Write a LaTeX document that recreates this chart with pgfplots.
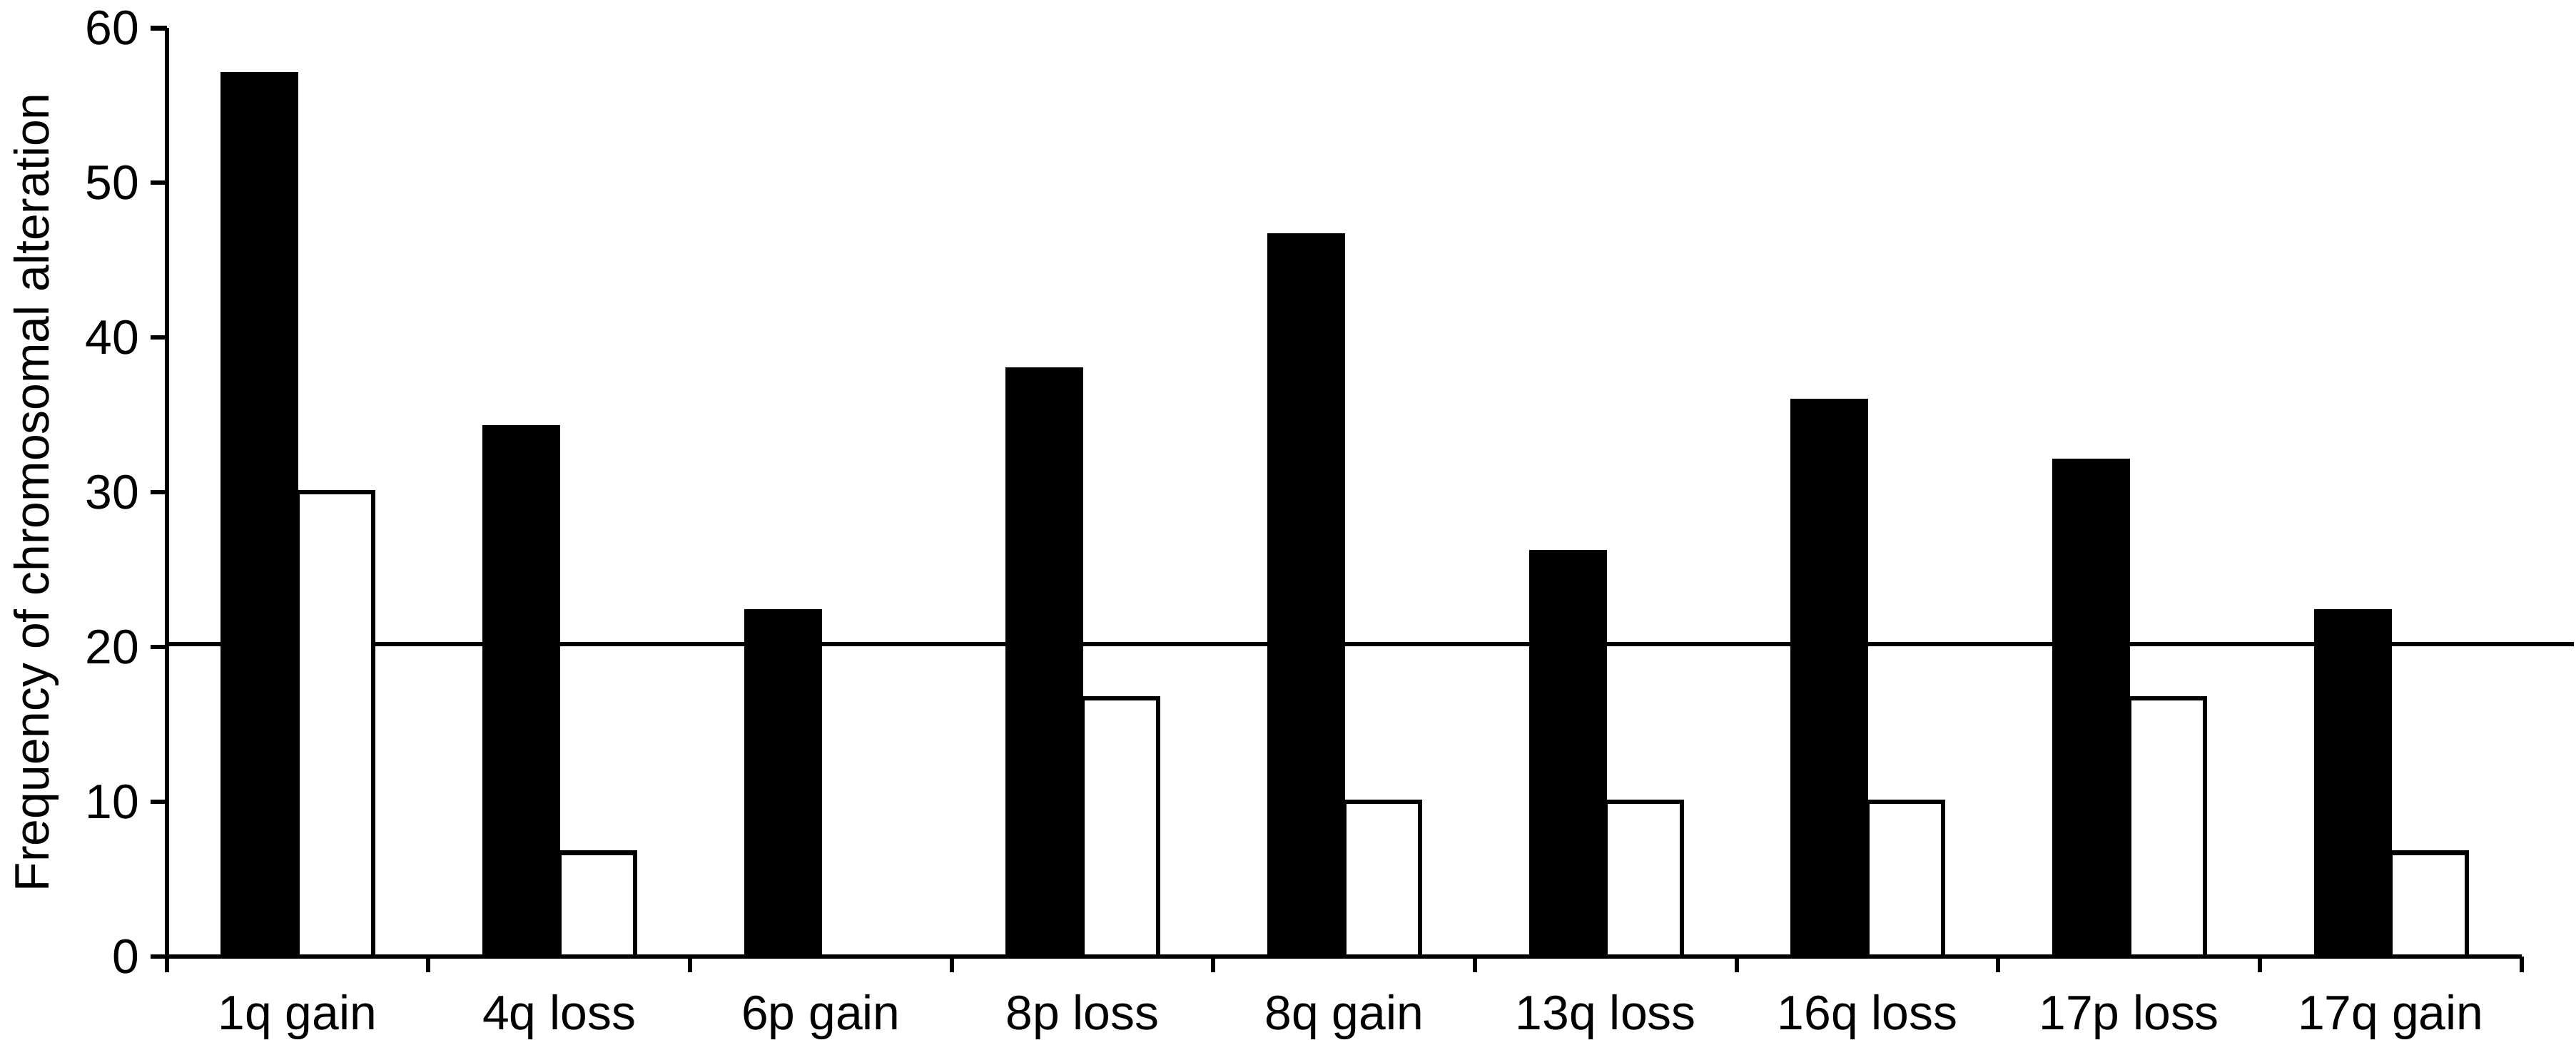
\documentclass[border=0pt]{standalone}
\usepackage{fontspec}
\setmainfont{Liberation Sans}
\usepackage{pgfplots}
\pgfplotsset{compat=1.18}
\begin{document}
\begin{tikzpicture}
\begin{axis}[
    scale only axis,
    width=535pt, height=211pt,
    xmin=-0.5, xmax=8.5, ymin=0, ymax=60,
    axis lines*=left,
    axis line style={line width=1pt},
    tick style={line width=1pt, black},
    tick align=outside,
    major tick length=3.6pt,
    ytick={0,10,...,60},
    yticklabel style={inner sep=2.5pt},
    xtick={-0.5,0.5,...,8.5},
    xticklabels={},
    extra x ticks={0,1,...,8},
    extra x tick labels={1q gain,4q loss,6p gain,8p loss,8q gain,13q loss,16q loss,17p loss,17q gain},
    extra x tick style={major tick length=0pt, xticklabel style={inner sep=0pt, anchor=north, yshift=-8.4pt}},
    ylabel={Frequency of chromosomal alteration},
    ylabel style={inner sep=3.2pt},
    font=\fontsize{11}{13}\selectfont,
    /pgf/number format/assume math mode=true,
    bar width=0.29,
    clip=false
    ]
% reference line, drawn first so the bars cover it
\addplot[black, line width=1pt] coordinates {(-0.5,20.2) (8.7,20.2)};
\addplot[ybar, bar shift=-0.145, fill=black, draw=black] coordinates {
    (0,57.1) (1,34.3) (2,22.4) (3,38.0) (4,46.7) (5,26.2) (6,36.0) (7,32.1) (8,22.4)};
\addplot[ybar, bar shift=0.145, fill=white, draw=black, line width=1pt] coordinates {
    (0,30.0) (1,6.7) (3,16.7) (4,10.0) (5,10.0) (6,10.0) (7,16.7) (8,6.7)};
\end{axis}
\end{tikzpicture}
\end{document}
